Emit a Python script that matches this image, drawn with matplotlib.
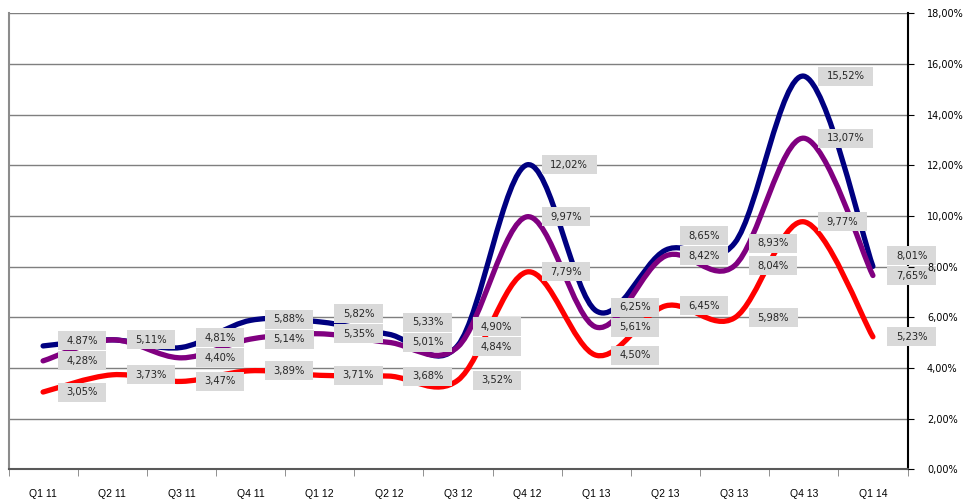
import numpy as np
import matplotlib.pyplot as plt
from matplotlib.path import Path
from matplotlib.patches import PathPatch

# quarterly rates (%)
quarters = ['Q1 11', 'Q2 11', 'Q3 11', 'Q4 11', 'Q1 12', 'Q2 12', 'Q3 12',
            'Q4 12', 'Q1 13', 'Q2 13', 'Q3 13', 'Q4 13', 'Q1 14']
blue_vals = [4.87, 5.11, 4.81, 5.88, 5.82, 5.33, 4.90, 12.02, 6.25, 8.65, 8.93, 15.52, 8.01]
purple_vals = [4.28, 5.11, 4.40, 5.14, 5.35, 5.01, 4.84, 9.97, 5.61, 8.42, 8.04, 13.07, 7.65]
red_vals = [3.05, 3.73, 3.47, 3.89, 3.71, 3.68, 3.52, 7.79, 4.50, 6.45, 5.98, 9.77, 5.23]


def pct(v):
    return f'{v:.2f}'.replace('.', ',') + '%'


blue_labels = [pct(v) for v in blue_vals]
blue_labels[0] = '4.87%'
purple_labels = [pct(v) for v in purple_vals]
red_labels = [pct(v) for v in red_vals]

series = [
    (blue_vals, blue_labels, '#000080'),
    (purple_vals, purple_labels, '#800080'),
    (red_vals, red_labels, '#ff0000'),
]


def smooth_path(x, y):
    # cubic bezier through every point (Catmull-Rom style tangents)
    pts = np.column_stack([x, y]).astype(float)
    n = len(pts)
    verts = [pts[0]]
    codes = [Path.MOVETO]
    for i in range(n - 1):
        p0 = pts[i - 1] if i > 0 else pts[i]
        p1, p2 = pts[i], pts[i + 1]
        p3 = pts[i + 2] if i + 2 < n else pts[i + 1]
        verts += [p1 + (p2 - p0) / 6, p2 - (p3 - p1) / 6, p2]
        codes += [Path.CURVE4] * 3
    return Path(verts, codes)


def label_box(x0, y0, width, height, mutation_size):
    px, py = 0.85 * mutation_size, 0.45 * mutation_size
    x1, y1 = x0 - px, y0 - py
    x2, y2 = x0 + width + px, y0 + height + py
    return Path([(x1, y1), (x2, y1), (x2, y2), (x1, y2), (x1, y1)],
                [Path.MOVETO, Path.LINETO, Path.LINETO, Path.LINETO, Path.CLOSEPOLY])


fig = plt.figure(figsize=(9.64, 5.04), dpi=100)
ax = fig.add_axes([8.5 / 964, 34.7 / 504, 899 / 964, 456 / 504])
ax.set_xlim(-0.5, len(quarters) - 0.5)
ax.set_ylim(0, 18)

yticks = np.arange(0, 19, 2)
# horizontal gridlines
ax.hlines(yticks[1:], -0.5, len(quarters) - 0.5, colors='#7f7f7f', lw=1, zorder=1)

x = np.arange(len(quarters))
for k, (vals, labels, color) in enumerate(series):
    ax.add_patch(PathPatch(smooth_path(x, vals), fill=False, edgecolor=color,
                           lw=3.8, capstyle='round', joinstyle='round', zorder=3))

# data labels, nudged upward where they would collide within a quarter
box_h = 20
for i in range(len(quarters)):
    order = sorted(range(len(series)), key=lambda k: series[k][0][i])
    prev_pix, prev_txt = None, None
    shifts = {}
    for k in order:
        vals, labels, _ = series[k]
        pix = ax.transData.transform((i, vals[i]))[1]
        pos = pix
        if prev_pix is not None and labels[i] != prev_txt:
            pos = max(pix, prev_pix + box_h)
        shifts[k] = pos - pix
        prev_pix, prev_txt = pos, labels[i]
    for k, (vals, labels, _) in enumerate(series):
        ax.annotate(labels[i], (i, vals[i]), xytext=(23, shifts[k]),
                    textcoords='offset pixels', ha='left', va='center',
                    fontsize=7.2, color='#262626', zorder=5 + k,
                    bbox=dict(boxstyle=label_box, fc='#d9d9d9', ec='none'),
                    annotation_clip=False)

# right-hand percentage axis, drawn above the label boxes
ax.yaxis.tick_right()
ax.set_yticks(yticks)
ax.set_yticklabels([pct(v) for v in yticks])
ax.tick_params(axis='y', which='major', direction='out', length=4, pad=10,
               labelsize=7, colors='black')
ax.yaxis.set_zorder(10)

# category axis: ticks between quarters, labels centred below
ax.set_xticks(x)
ax.set_xticklabels(quarters, family='Liberation Sans', fontsize=7.5)
ax.set_xticks(np.arange(-0.5, len(quarters), 1), minor=True)
ax.tick_params(axis='x', which='major', length=0, pad=14)
ax.tick_params(axis='x', which='minor', direction='out', length=5, color='#7f7f7f')

ax.spines['top'].set_visible(False)
ax.spines['left'].set_color('#8c8c8c')
ax.spines['left'].set_linewidth(1.5)
ax.spines['right'].set_color('black')
ax.spines['right'].set_linewidth(1.5)
ax.spines['bottom'].set_color('#595959')
ax.spines['bottom'].set_linewidth(1.5)

fig.savefig('out.png', dpi=100)
